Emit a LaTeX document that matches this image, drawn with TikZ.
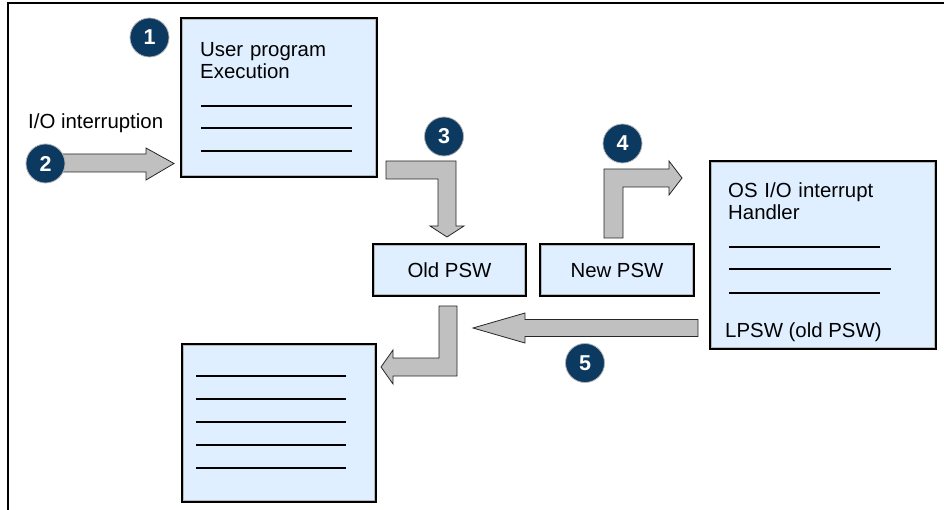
\documentclass[tikz,border=0pt]{standalone}
\usepackage{fontspec}
\setmainfont{Liberation Sans}
\definecolor{boxblue}{RGB}{223,239,255}
\definecolor{dotblue}{RGB}{12,57,96}
\definecolor{arrowgray}{RGB}{192,192,192}

\begin{document}
\begin{tikzpicture}[x=1pt,y=-1pt,
    panel/.style={draw=black,line width=1.6pt,fill=boxblue,inner sep=0pt},
    rim/.style={draw=black!28,line width=1.6pt},
    numdot/.style={circle,fill=dotblue,draw=black!30,line width=0.8pt,minimum size=39pt,inner sep=0pt,text=white,font=\fontsize{21.5}{21.5}\selectfont\bfseries},
    blockarr/.style={fill=arrowgray,draw=black!85,line width=0.8pt,line join=miter},
    txt/.style={font=\fontsize{20.4}{22}\selectfont,inner sep=0pt},
    rule/.style={line width=1.3pt}]
        \useasboundingbox (0,0) rectangle (944,510);
        % frame
        \draw [line width=2pt] (944,3) -- (8,3) -- (8,510);
        % boxes
        \node [panel,minimum width=196.4pt,minimum height=159.4pt] (user) at (279,97.5) {};
        \node [panel,minimum width=153.4pt,minimum height=52.4pt,txt] (oldpsw) at (449.5,270) {Old PSW};
        \node [panel,minimum width=154.4pt,minimum height=52.4pt,txt] (newpsw) at (617,270) {New PSW};
        \node [panel,minimum width=226.4pt,minimum height=188.4pt] (os) at (823,255) {};
        \node [panel,minimum width=194.4pt,minimum height=158.4pt] (resume) at (279,423) {};
        \foreach \n in {user,oldpsw,newpsw,os,resume}
            \draw [rim] ([shift={(2.4,2.4)}]\n.north west) rectangle ([shift={(-2.4,-2.4)}]\n.south east);
        % texts
        \node [txt,anchor=base west] (iolabel) at (28,129) {I/O interruption};
        \node [txt,anchor=base west,text width=170pt] (usertxt) at (200,57) {User program\\Execution};
        \node [txt,anchor=base west,text width=200pt] (ostxt) at (728,198) {OS I/O interrupt\\Handler};
        \node [txt,anchor=base west] (lpsw) at (725,337) {LPSW (old PSW)};
        % blank lines
        \foreach \y in {106,128,151}
            \draw [rule] (201,\y) -- (352,\y);
        \draw [rule] (729,247) -- (880,247);
        \draw [rule] (729,269) -- (891,269);
        \draw [rule] (729,293) -- (880,293);
        \foreach \y in {376,399,422,445,468}
            \draw [rule] (196,\y) -- (346,\y);
        % block arrows
        \draw [blockarr] (62,154) -- (146,154) -- (146,148) -- (174,163.5) -- (146,180) -- (146,172) -- (62,172) -- cycle;
        \draw [blockarr] (386,161) -- (456,161) -- (456,226) -- (464,226) -- (447,237) -- (430,226) -- (438,226) -- (438,179) -- (386,179) -- cycle;
        \draw [blockarr] (604,238) -- (604,169) -- (669,169) -- (669,161) -- (682,178) -- (669,195) -- (669,187) -- (623,187) -- (623,238) -- cycle;
        \draw [blockarr] (698,319.5) -- (525,319.5) -- (525,313) -- (473,328) -- (525,343) -- (525,336.5) -- (698,336.5) -- cycle;
        \draw [blockarr] (439,306) -- (457,306) -- (457,376) -- (393,376) -- (393,384) -- (381,367) -- (393,350) -- (393,358) -- (439,358) -- cycle;
        % step numbers
        \node [numdot] (c1) at (149.5,37.5) {1};
        \node [numdot] (c2) at (45.5,163.5) {2};
        \node [numdot] (c3) at (444,136.5) {3};
        \node [numdot] (c4) at (622.5,143.5) {4};
        \node [numdot] (c5) at (585,363) {5};
\end{tikzpicture}
\end{document}
